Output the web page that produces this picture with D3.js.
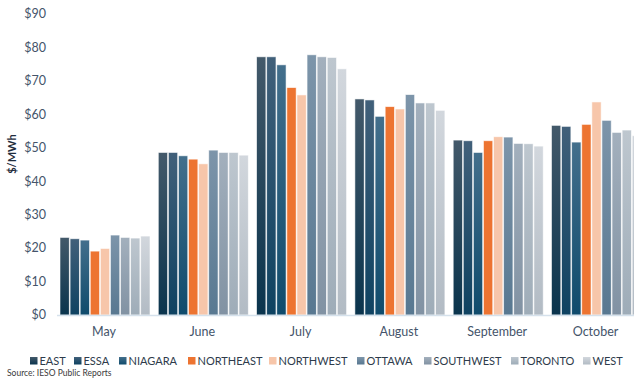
<!DOCTYPE html>
<html>
<head>
<meta charset="utf-8">
<script src="https://cdn.jsdelivr.net/npm/d3@7/dist/d3.min.js"></script>
<style>
  body { margin: 0; background: #fff; }
  svg { font-family: Lato, "Open Sans", sans-serif; }
</style>
</head>
<body>
<div id="chart"></div>
<script>
const months = ['May', 'June', 'July', 'August', 'September', 'October']
const regions = ['EAST', 'ESSA', 'NIAGARA', 'NORTHEAST', 'NORTHWEST', 'OTTAWA', 'SOUTHWEST', 'TORONTO', 'WEST']
const yTicks = [0, 10, 20, 30, 40, 50, 60, 70, 80, 90]

// $/MWh per region, one array per month (order of regions)
const mayValues = [23.2, 22.8, 22.4, 19.1, 19.9, 23.9, 23.2, 23.0, 23.6]
const juneValues = [48.6, 48.6, 47.6, 46.6, 45.2, 49.3, 48.6, 48.6, 47.8]
const julyValues = [77.2, 77.2, 74.8, 68.0, 65.8, 77.8, 77.2, 77.0, 73.6]
const augustValues = [64.6, 64.3, 59.4, 62.3, 61.6, 65.9, 63.4, 63.4, 61.2]
const septemberValues = [52.3, 52.1, 48.6, 52.1, 53.3, 53.2, 51.3, 51.2, 50.5]
const octoberValues = [56.7, 56.4, 51.7, 57.0, 63.7, 58.2, 54.6, 55.3, 53.6]
const monthValues = [mayValues, juneValues, julyValues, augustValues, septemberValues, octoberValues]

// top / bottom gradient colours for each region
const colorTop = ['#43596a', '#41607a', '#436f8c', '#ed7431', '#f7c6aa', '#7d95aa', '#a3b0bd', '#bec7cf', '#d2d7dd']
const colorBottom = ['#0a344d', '#0e4261', '#0f4b6c', '#ed7431', '#f7c6aa', '#587891', '#8192a3', '#9eacb8', '#b2bbc4']

const width = 634
const height = 380
const margin = { top: 14, left: 54 }
const plotBottom = 315

const svg = d3.select('#chart')
  .append('svg')
  .attr('width', width)
  .attr('height', height)

// gradients
const defs = svg.append('defs')
regions.forEach((r, i) => {
  const grad = defs.append('linearGradient')
    .attr('id', 'g' + i)
    .attr('x1', 0).attr('y1', 0).attr('x2', 0).attr('y2', 1)
  grad.append('stop').attr('offset', '0%').attr('stop-color', colorTop[i])
  grad.append('stop').attr('offset', '100%').attr('stop-color', colorBottom[i])
})

const x0 = d3.scaleBand()
  .domain(months)
  .range([margin.left, margin.left + 6 * 98.3])

const x1 = d3.scaleBand()
  .domain(regions)
  .range([6, 96])
  .paddingInner(0.08)

const y = d3.scaleLinear()
  .domain([0, 90])
  .range([plotBottom, margin.top])

// y axis labels
svg.append('g')
  .selectAll('text')
  .data(yTicks)
  .join('text')
  .attr('x', 46)
  .attr('y', d => y(d))
  .attr('dy', '0.35em')
  .attr('text-anchor', 'end')
  .attr('fill', '#44546a')
  .attr('font-size', 12.5)
  .text(d => '$' + d)

svg.append('text')
  .attr('transform', 'translate(12, 154) rotate(-90)')
  .attr('text-anchor', 'middle')
  .attr('dy', '0.35em')
  .attr('font-size', 11)
  .attr('font-weight', 'bold')
  .attr('fill', '#1f2d3d')
  .text('$/MWh')

// bars
const groups = svg.append('g')
  .selectAll('g')
  .data(months)
  .join('g')
  .attr('transform', d => `translate(${x0(d)},0)`)

groups.selectAll('rect')
  .data((m, mi) => regions.map((r, i) => ({ region: r, i, value: monthValues[mi][i] })))
  .join('rect')
  .attr('x', d => x1(d.region))
  .attr('y', d => y(d.value))
  .attr('width', x1.bandwidth())
  .attr('height', d => plotBottom - y(d.value))
  .attr('fill', d => `url(#g${d.i})`)
  .attr('stroke', '#ffffff')
  .attr('stroke-opacity', 0.7)
  .attr('stroke-width', 0.8)

// x axis line
svg.append('line')
  .attr('x1', 57)
  .attr('x2', width)
  .attr('y1', plotBottom + 0.5)
  .attr('y2', plotBottom + 0.5)
  .attr('stroke', '#d5e1ec')
  .attr('stroke-width', 1.5)

svg.append('g')
  .selectAll('text')
  .data(months)
  .join('text')
  .attr('x', d => x0(d) + 50)
  .attr('y', 332)
  .attr('dy', '0.35em')
  .attr('text-anchor', 'middle')
  .attr('fill', '#44546a')
  .attr('font-size', 12.5)
  .text(d => d)

// legend
const legendX = [30, 74, 119, 188, 269, 357, 424, 511, 583]
const legend = svg.append('g')
  .selectAll('g')
  .data(regions)
  .join('g')
  .attr('transform', (d, i) => `translate(${legendX[i]}, 361)`)

legend.append('rect')
  .attr('x', 0)
  .attr('y', -4)
  .attr('width', 7.5)
  .attr('height', 7.5)
  .attr('fill', (d, i) => `url(#g${i})`)

legend.append('text')
  .attr('x', 9.5)
  .attr('y', 0)
  .attr('dy', '0.35em')
  .attr('fill', '#2e3b4b')
  .attr('font-size', 11)
  .text(d => d)

svg.append('text')
  .attr('x', 7)
  .attr('y', 376)
  .attr('font-size', 8.5)
  .attr('fill', '#3a3a3a')
  .text('Source: IESO Public Reports')
</script>
</body>
</html>
